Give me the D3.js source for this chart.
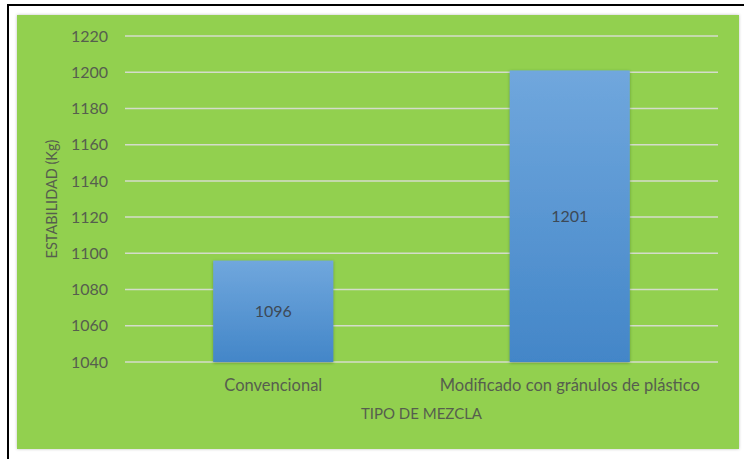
<!DOCTYPE html>
<html><head><meta charset="utf-8">
<script src="https://cdn.jsdelivr.net/npm/d3@7"></script>
<style>body{margin:0;background:#fff}svg{display:block}</style>
</head><body>
<svg id="c" width="744" height="459"></svg>
<script>
const categories = ["Convencional", "Modificado con gránulos de plástico"];
const values = [1096, 1201];
const yTicks = [1040, 1060, 1080, 1100, 1120, 1140, 1160, 1180, 1200, 1220];
const yTitle = "ESTABILIDAD (Kg)";
const xTitle = "TIPO DE MEZCLA";

const svg = d3.select("#c");
const font = "Lato, 'Open Sans', sans-serif";
const txt = "#565e4e";

const defs = svg.append("defs");
const g = defs.append("linearGradient").attr("id","bg").attr("x1",0).attr("y1",0).attr("x2",0).attr("y2",1);
g.append("stop").attr("offset","0%").attr("stop-color","#70a7dd");
g.append("stop").attr("offset","100%").attr("stop-color","#4386c8");
const f = defs.append("filter").attr("id","sh").attr("x","-20%").attr("y","-20%").attr("width","140%").attr("height","140%");
f.append("feDropShadow").attr("dx",0).attr("dy",1).attr("stdDeviation",1.5).attr("flood-color","#2d4d1a").attr("flood-opacity",0.45);
const f2 = defs.append("filter").attr("id","psh").attr("x","-5%").attr("y","-5%").attr("width","110%").attr("height","110%");
f2.append("feDropShadow").attr("dx",0).attr("dy",0).attr("stdDeviation",1.5).attr("flood-color","#000").attr("flood-opacity",0.25);

// frame
svg.append("path").attr("d","M8,459 V5 H744").attr("fill","none").attr("stroke","#000").attr("stroke-width",2);
svg.append("rect").attr("x",17).attr("y",15).attr("width",722).attr("height",434).attr("fill","#92d050").attr("filter","url(#psh)");

const x0 = 125, x1 = 718;
const y = d3.scaleLinear().domain([1040, 1220]).range([362, 36]);
const x = d3.scaleBand().domain(categories).range([x0, x1]).paddingInner(0.595).paddingOuter(0.2975);

// gridlines
svg.append("g").selectAll("line").data(yTicks).join("line")
  .attr("x1",x0).attr("x2",x1).attr("y1",d=>y(d)).attr("y2",d=>y(d))
  .attr("stroke","#d4dccb").attr("stroke-width",1.5);

// y axis labels
const yAxis = d3.axisLeft(y).tickValues(yTicks).tickSize(0).tickPadding(0).tickFormat(d3.format("d"));
const ya = svg.append("g").attr("transform","translate(108,0)").call(yAxis);
ya.select(".domain").remove();
ya.selectAll("text").attr("font-family",font).attr("font-size",16).attr("fill",txt);

// bars
svg.append("g").selectAll("rect").data(values).join("rect")
  .attr("x",(d,i)=>x(categories[i])).attr("width",x.bandwidth())
  .attr("y",d=>y(d)).attr("height",d=>y(1040)-y(d))
  .attr("fill","url(#bg)").attr("filter","url(#sh)");

// value labels
svg.append("g").selectAll("text").data(values).join("text")
  .attr("x",(d,i)=>x(categories[i])+x.bandwidth()/2)
  .attr("y",d=>(y(d)+y(1040))/2).attr("dy","0.35em")
  .attr("text-anchor","middle").attr("font-family",font).attr("font-size",16).attr("fill","#3d4956")
  .text(d=>d);

// x axis labels
const xAxis = d3.axisBottom(x).tickSize(0).tickPadding(0);
const xa = svg.append("g").attr("transform","translate(0,385)").call(xAxis);
xa.select(".domain").remove();
xa.selectAll("text").attr("font-family",font).attr("font-size",16.5).attr("fill",txt).attr("dy","0.35em").attr("y",0);

// titles
svg.append("text").attr("x",(x0+x1)/2).attr("y",414).attr("dy","0.35em").attr("text-anchor","middle")
  .attr("font-family",font).attr("font-size",15).attr("fill",txt).text(xTitle);
svg.append("text").attr("transform","translate(52,199) rotate(-90)").attr("dy","0.35em").attr("text-anchor","middle")
  .attr("font-family",font).attr("font-size",14.5).attr("fill",txt).text(yTitle);
</script>
</body></html>
